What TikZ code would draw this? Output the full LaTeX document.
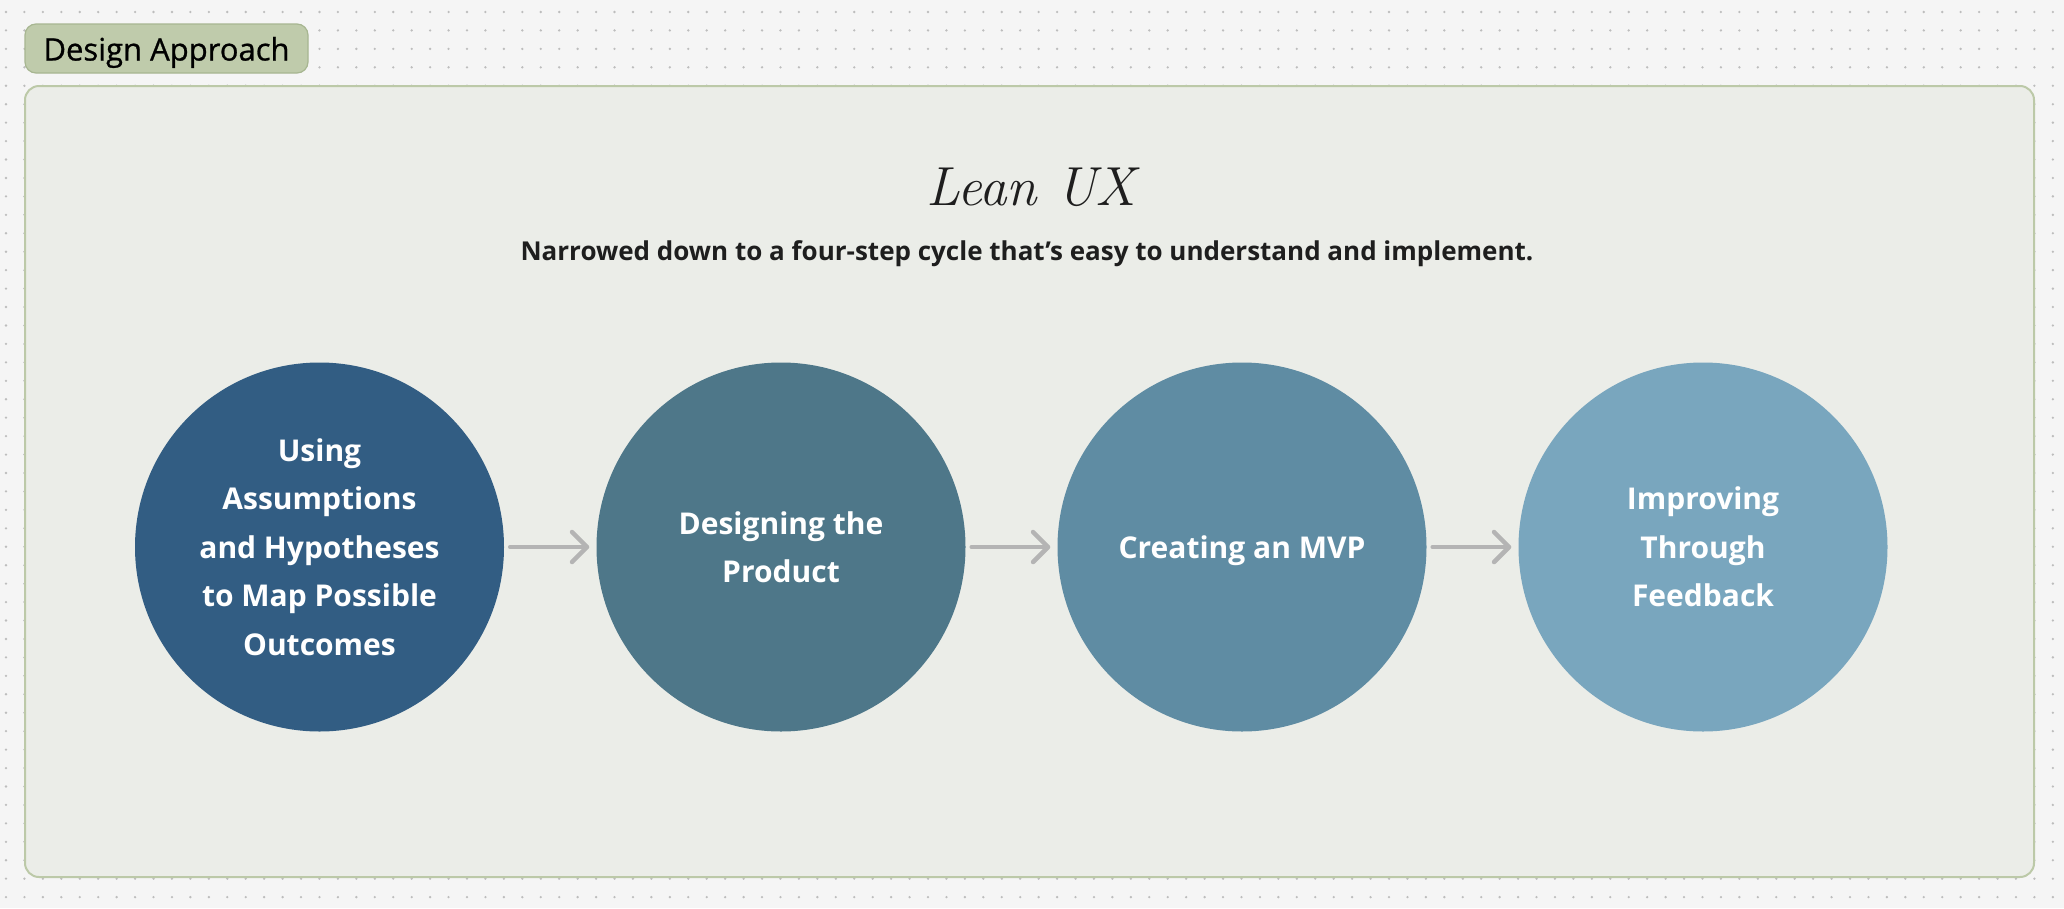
\documentclass[tikz,border=0pt]{standalone}
\usepackage{fontspec}
\setmainfont{Open Sans}
\newfontfamily\tagfont[FakeBold=0.8]{Open Sans}
\newfontfamily\handfont{Latin Modern Roman}
\usetikzlibrary{arrows.meta}
\definecolor{bgc}{HTML}{F5F5F5}
\definecolor{dotc}{HTML}{BDBDBD}
\definecolor{framefill}{HTML}{EBEDE8}
\definecolor{frameborder}{HTML}{BCC9A8}
\definecolor{tagfill}{HTML}{BFCBAB}
\definecolor{tagborder}{HTML}{A7B691}
\definecolor{cone}{HTML}{325D83}
\definecolor{ctwo}{HTML}{4E7789}
\definecolor{cthree}{HTML}{5F8CA3}
\definecolor{cfour}{HTML}{79A6BE}
\definecolor{arrc}{HTML}{B4B4B4}
\definecolor{txtc}{HTML}{1E1E1E}
\tikzset{
  framebox/.style={draw=frameborder, line width=2pt, fill=framefill, rounded corners=14pt, minimum width=2009pt, minimum height=791pt, inner sep=0pt},
  tagbox/.style={draw=tagborder, line width=1.2pt, fill=tagfill, rounded corners=11pt, minimum width=283pt, minimum height=49pt, inner sep=0pt, text height=24pt, text depth=0pt, font=\tagfont\fontsize{31}{36}\selectfont, text=black},
  stepcircle/.style={circle, minimum size=369pt, inner sep=0pt, align=center, text=white, font=\bfseries\fontsize{30}{48.5}\selectfont},
  arr/.style={draw=arrc, line width=4.5pt, line cap=round, -{Straight Barb[length=15pt, width=30pt, round]}},
  titletext/.style={anchor=base, font=\handfont\itshape\fontsize{55}{60}\selectfont, text=txtc},
  subtext/.style={anchor=base, font=\bfseries\fontsize{26}{30}\selectfont, text=txtc}
}
\begin{document}
\begin{tikzpicture}[x=1pt,y=-1pt]
\useasboundingbox (0,0) rectangle (2064,908);
\fill[bgc] (0,0) rectangle (2064,908);
\foreach \i in {0,...,111} {
  \foreach \j in {0,...,48} {
    \fill[dotc] ({6+18.44*\i},{12+18.44*\j}) circle[radius=1.3];
  }
}
\node[framebox] (frame) at (1029.5,481.5) {};
\node[tagbox] (tag) at (166.5,48.5) {Design Approach};
\node[titletext] (title) at (1031,205) {Lean UX};
\node[subtext] (sub) at (1027,260) {Narrowed down to a four-step cycle that’s easy to understand and implement.};
\node[stepcircle, fill=cone] (s1) at (319.5,547) {Using\\Assumptions\\and Hypotheses\\to Map Possible\\Outcomes};
\node[stepcircle, fill=ctwo] (s2) at (781,547) {Designing the\\Product};
\node[stepcircle, fill=cthree, text height=22pt, text depth=0pt] (s3) at (1242,547) {Creating an MVP};
\node[stepcircle, fill=cfour] (s4) at (1703,547) {Improving\\Through\\Feedback};
\draw[arr] ([xshift=6pt]s1.east) -- ([xshift=-7pt]s2.west);
\draw[arr] ([xshift=6pt]s2.east) -- ([xshift=-7pt]s3.west);
\draw[arr] ([xshift=6pt]s3.east) -- ([xshift=-7pt]s4.west);
\end{tikzpicture}
\end{document}
